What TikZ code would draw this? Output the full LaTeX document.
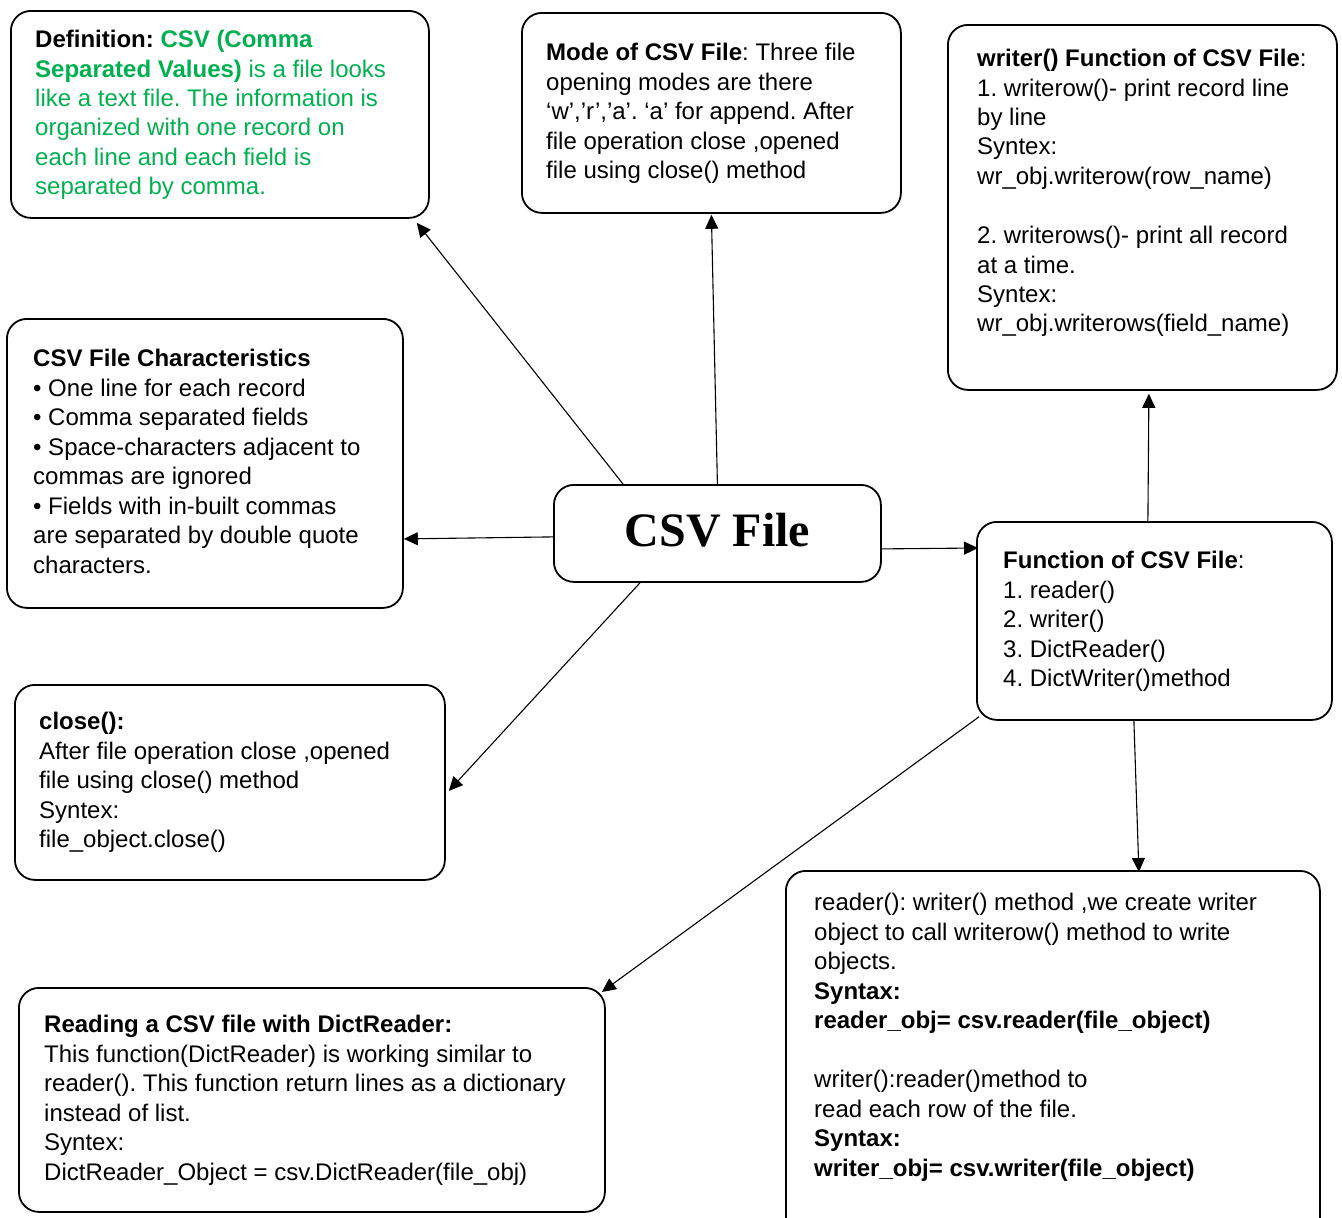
\documentclass[tikz,border=0pt]{standalone}
\usepackage{fontspec}
\setmainfont{Liberation Sans}
\newfontfamily\csvserif{Liberation Serif}
\usetikzlibrary{arrows.meta,calc}
\definecolor{defgreen}{RGB}{0,176,80}
\tikzset{
  box/.style={draw=black, line width=1.8pt, rounded corners=20pt, rectangle, inner sep=0pt, anchor=north west},
  txt/.style={anchor=base west, inner sep=0pt, text width=620pt, align=left, font=\fontsize{24}{29.5}\selectfont\frenchspacing,
    execute at begin node={\spaceskip=6.67pt\relax}},
  conn/.style={line width=1.1pt, -{Triangle[length=14pt,width=13pt]}},
}
\begin{document}
\frenchspacing
\begin{tikzpicture}[x=1pt,y=-1pt]
\clip (0,0) rectangle (1342,1218);
\fill[white] (0,0) rectangle (1342,1218);

% boxes
\node[box, minimum width=418pt, minimum height=207pt] (def) at (10,10) {};
\node[box, minimum width=379pt, minimum height=200pt] (mode) at (521,12) {};
\node[box, minimum width=389pt, minimum height=365pt] (wfun) at (947,24) {};
\node[box, minimum width=396pt, minimum height=289pt] (chr) at (6,318) {};
\node[box, minimum width=327pt, minimum height=97pt, text depth=8pt,
      font=\csvserif\bfseries\fontsize{48}{56}\selectfont] (csv) at (553,484) {CSV File};
\node[box, minimum width=355pt, minimum height=198pt] (fun) at (976,521) {};
\node[box, minimum width=430pt, minimum height=195pt] (close) at (14,684) {};
\node[box, minimum width=586pt, minimum height=224pt] (dict) at (18,987) {};
\node[box, minimum width=534pt, minimum height=370pt] (rw) at (785,870) {};

% texts
\node[txt, text=defgreen] (defT) at (35,47.5) {\textcolor{black}{\bfseries Definition:} {\bfseries CSV (Comma}\\{\bfseries Separated Values)} is a file looks\\like a text file. The information is\\organized with one record on\\each line and each field is\\separated by comma.};

\node[txt] (modeT) at (546,60.5) {{\bfseries Mode of CSV File}: Three file\\opening modes are there\\‘w’,’r’,’a’. ‘a’ for append. After\\file operation close ,opened\\file using close() method};

\node[txt] (wfunT) at (977,66.5) {{\bfseries writer() Function of CSV File}:\\1. writerow()- print record line\\by line\\Syntex:\\wr\_obj.writerow(row\_name)\\[29.5pt]2. writerows()- print all record\\at a time.\\Syntex:\\wr\_obj.writerows(field\_name)};

\node[txt] (chrT) at (33,366.5) {{\bfseries CSV File Characteristics}\\•~One line for each record\\•~Comma separated fields\\•~Space-characters adjacent to\\commas are ignored\\•~Fields with in-built commas\\are separated by double quote\\characters.};

\node[txt] (funT) at (1003,568.5) {{\bfseries Function of CSV File}:\\1. reader()\\2. writer()\\3. DictReader()\\4. DictWriter()method};

\node[txt] (closeT) at (39,729.5) {{\bfseries close():}\\After file operation close ,opened\\file using close() method\\Syntex:\\file\_object.close()};

\node[txt] (dictT) at (44,1032.5) {{\bfseries Reading a CSV file with DictReader:}\\This function(DictReader) is working similar to\\reader(). This function return lines as a dictionary\\instead of list.\\Syntex:\\DictReader\_Object = csv.DictReader(file\_obj)};

\node[txt] (rwT) at (814,910.5) {reader(): writer() method ,we create writer\\object to call writerow() method to write\\objects.\\{\bfseries Syntax:}\\{\bfseries reader\_obj= csv.reader(file\_object)}\\[29.5pt]writer():reader()method to\\read each row of the file.\\{\bfseries Syntax:}\\{\bfseries writer\_obj= csv.writer(file\_object)}};

% connectors
\draw[conn] ([xshift=70pt]csv.north west) -- ([xshift=-13pt,yshift=-4pt]def.south east);
\draw[conn] (csv.north) -- ([yshift=-1pt]mode.south);
\draw[conn] ([yshift=-3.5pt]csv.west) -- ([yshift=-75.5pt]chr.east);
\draw[conn] ([xshift=87pt]csv.south west) -- ([xshift=3pt,yshift=-8.5pt]close.east);
\draw[conn] ([yshift=-15.5pt]csv.east) -- ([xshift=2pt,yshift=-27pt]fun.north west);
\draw[conn] ([xshift=-6.5pt]fun.north) -- ([xshift=6.5pt,yshift=-3pt]wfun.south);
\draw[conn] ([xshift=3pt,yshift=4pt]fun.south west) -- ([xshift=-4pt,yshift=-5pt]dict.north east);
\draw[conn] ([xshift=-20.5pt]fun.south) -- ([xshift=86pt,yshift=-2pt]rw.north);
\end{tikzpicture}
\end{document}
